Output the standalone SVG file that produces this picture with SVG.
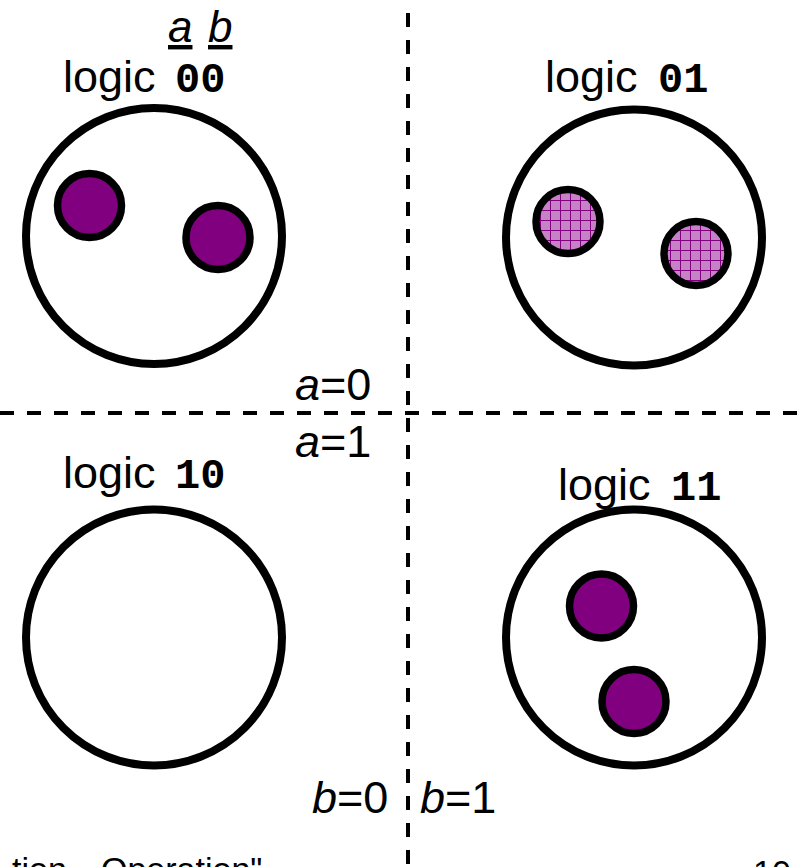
<svg xmlns="http://www.w3.org/2000/svg" width="804" height="867" viewBox="0 0 804 867">
<style>
.big{fill:#fff;stroke:#000;stroke-width:8}
.dot{fill:#800080;stroke:#000;stroke-width:7.5}
.hatch{fill:url(#grid);stroke:#000;stroke-width:7.5}
.t{font-family:"Liberation Sans",Arial,sans-serif;font-size:45px;fill:#000}
.m{font-family:"Liberation Mono","Courier New",monospace;font-weight:bold;font-size:42px}
.i{font-style:italic}
.h{font-size:44px}
.f{font-size:34px}
.div{stroke:#000;stroke-width:4;stroke-dasharray:14 13;fill:none}
</style>
<defs>
<pattern id="grid" patternUnits="userSpaceOnUse" width="10" height="10">
<rect width="10" height="10" fill="#c583c5"/>
<path d="M0 0.5H10M0.5 0V10" stroke="#800080" stroke-width="1"/>
</pattern>
</defs>
<rect width="804" height="867" fill="#fff"/>
<g id="dividers">
<line class="div" x1="0" y1="413" x2="804" y2="413"/>
<line class="div" x1="408" y1="13" x2="408" y2="867"/>
</g>
<g id="header">
<text class="t i h" x="168" y="42" text-decoration="underline">a</text>
<text class="t i h" x="208" y="42" text-decoration="underline">b</text>
</g>
<g id="state00">
<text class="t" x="63" y="92">logic <tspan class="m" dx="7">00</tspan></text>
<circle class="big" cx="154" cy="236" r="128"/>
<circle class="dot" cx="89.5" cy="205.5" r="32"/>
<circle class="dot" cx="218" cy="237.5" r="32"/>
</g>
<g id="state01">
<text class="t" x="545" y="92">logic <tspan class="m" dx="8">01</tspan></text>
<circle class="big" cx="634" cy="237.5" r="128"/>
<circle class="hatch" cx="568" cy="221.5" r="32"/>
<circle class="hatch" cx="696" cy="253.5" r="32"/>
</g>
<g id="state10">
<text class="t" x="63" y="488">logic <tspan class="m" dx="7">10</tspan></text>
<circle class="big" cx="154" cy="637.5" r="128"/>
</g>
<g id="state11">
<text class="t" x="558" y="500">logic <tspan class="m" dx="8">11</tspan></text>
<circle class="big" cx="634" cy="637.5" r="128"/>
<circle class="dot" cx="601.5" cy="606" r="32"/>
<circle class="dot" cx="634" cy="701.5" r="32"/>
</g>
<g id="labels">
<text class="t" x="295" y="400"><tspan class="i">a</tspan>=0</text>
<text class="t" x="295" y="457"><tspan class="i">a</tspan>=1</text>
<text class="t" x="312" y="813"><tspan class="i">b</tspan>=0</text>
<text class="t" x="420" y="813"><tspan class="i">b</tspan>=1</text>
</g>
<g id="footer">
<text class="t f" x="12" y="881">tion <tspan x="101">Operation"</tspan></text>
<text class="t f" x="753" y="884">10</text>
</g>
</svg>
